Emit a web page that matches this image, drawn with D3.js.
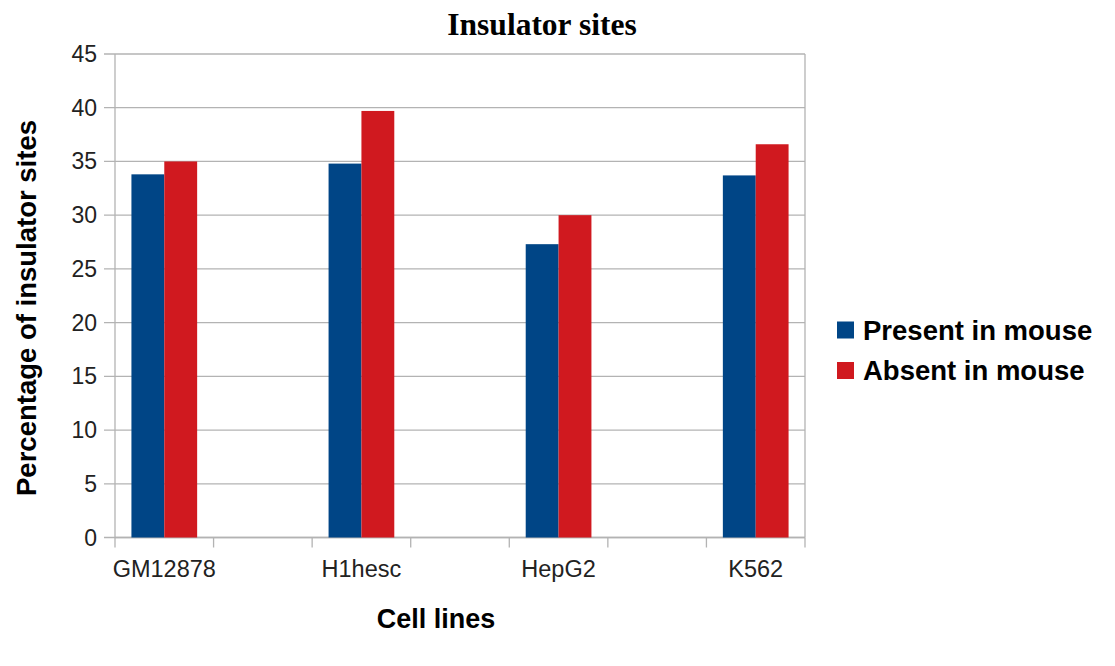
<!DOCTYPE html>
<html>
<head>
<meta charset="utf-8">
<script src="https://cdn.jsdelivr.net/npm/d3@7"></script>
<style>
  body { margin: 0; background: #fff; }
  svg { display: block; }
</style>
</head>
<body>
<svg id="chart" width="1115" height="666"></svg>
<script>
// chart data
var cellLines = ['GM12878', 'H1hesc', 'HepG2', 'K562'];
var seriesNames = ['Present in mouse', 'Absent in mouse'];
var presentValues = [33.8, 34.8, 27.3, 33.7];
var absentValues = [35.0, 39.7, 30.0, 36.6];
var yTicks = [0, 5, 10, 15, 20, 25, 30, 35, 40, 45];
var colors = ['#004586', '#d0191f'];

var svg = d3.select('#chart');
var plotLeft = 115, plotRight = 805, plotTop = 54, plotBottom = 537.5;
var gridColor = '#b3b3b3';

// the original chart has empty slots between cell lines
var slots = [];
cellLines.forEach(function(c, i) {
  slots.push({ key: 'c' + i, label: c, index: i });
  if (i < cellLines.length - 1) slots.push({ key: 'gap' + i, label: '', index: -1 });
});

var x = d3.scaleBand()
  .domain(slots.map(function(d) { return d.key; }))
  .range([plotLeft, plotRight]);

var y = d3.scaleLinear().domain([0, 45]).range([plotBottom, plotTop]);

// two bars per slot, each a third of the slot, centred
var inner = d3.scaleBand()
  .domain(seriesNames)
  .range([0, x.bandwidth()])
  .paddingInner(0)
  .paddingOuter(0.5);

// gridlines (with short outer ticks on the left)
svg.append('g')
  .selectAll('line')
  .data(yTicks)
  .enter()
  .append('line')
  .attr('x1', plotLeft - 11)
  .attr('x2', plotRight)
  .attr('y1', function(d) { return y(d); })
  .attr('y2', function(d) { return y(d); })
  .attr('stroke', gridColor)
  .attr('stroke-width', 1.3);

// y axis line and right border
svg.append('line').attr('x1', plotLeft).attr('x2', plotLeft).attr('y1', plotTop).attr('y2', plotBottom)
  .attr('stroke', gridColor).attr('stroke-width', 1.3);
svg.append('line').attr('x1', plotRight).attr('x2', plotRight).attr('y1', plotTop).attr('y2', plotBottom)
  .attr('stroke', gridColor).attr('stroke-width', 1.3);

// y tick labels
svg.append('g')
  .selectAll('text')
  .data(yTicks)
  .enter()
  .append('text')
  .attr('x', 97)
  .attr('y', function(d) { return y(d); })
  .attr('dy', '0.35em')
  .attr('text-anchor', 'end')
  .attr('font-family', 'Liberation Sans, Arial, sans-serif')
  .attr('font-size', '23px')
  .attr('fill', '#222')
  .text(function(d) { return d; });

// x axis with ticks at slot boundaries
var boundaries = slots.map(function(d) { return x(d.key); }).concat([plotRight]);
svg.append('line').attr('x1', plotLeft).attr('x2', plotRight).attr('y1', plotBottom).attr('y2', plotBottom)
  .attr('stroke', gridColor).attr('stroke-width', 1.3);
svg.append('g')
  .selectAll('line')
  .data(boundaries)
  .enter()
  .append('line')
  .attr('x1', function(d) { return d; })
  .attr('x2', function(d) { return d; })
  .attr('y1', plotBottom)
  .attr('y2', plotBottom + 10)
  .attr('stroke', gridColor)
  .attr('stroke-width', 1.3);

svg.append('g')
  .selectAll('text')
  .data(slots.filter(function(d) { return d.label; }))
  .enter()
  .append('text')
  .attr('x', function(d) { return x(d.key) + x.bandwidth() / 2; })
  .attr('y', 577)
  .attr('text-anchor', 'middle')
  .attr('font-family', 'Liberation Sans, Arial, sans-serif')
  .attr('font-size', '23.5px')
  .attr('fill', '#222')
  .text(function(d) { return d.label; });

// bars
var seriesValues = [presentValues, absentValues];
seriesValues.forEach(function(vals, s) {
  svg.append('g')
    .selectAll('rect')
    .data(slots.filter(function(d) { return d.index >= 0; }))
    .enter()
    .append('rect')
    .attr('x', function(d) { return x(d.key) + inner(seriesNames[s]); })
    .attr('width', inner.bandwidth())
    .attr('y', function(d) { return y(vals[d.index]); })
    .attr('height', function(d) { return plotBottom - y(vals[d.index]); })
    .attr('fill', colors[s]);
});

// title
svg.append('text')
  .attr('x', 542)
  .attr('y', 35)
  .attr('text-anchor', 'middle')
  .attr('font-family', 'Liberation Serif, Times New Roman, serif')
  .attr('font-weight', 'bold')
  .attr('font-size', '31.5px')
  .text('Insulator sites');

// axis titles
svg.append('text')
  .attr('transform', 'translate(36,308) rotate(-90)')
  .attr('text-anchor', 'middle')
  .attr('font-family', 'Liberation Sans, Arial, sans-serif')
  .attr('font-weight', 'bold')
  .attr('font-size', '27.5px')
  .text('Percentage of insulator sites');

svg.append('text')
  .attr('x', 436)
  .attr('y', 628)
  .attr('text-anchor', 'middle')
  .attr('font-family', 'Liberation Sans, Arial, sans-serif')
  .attr('font-weight', 'bold')
  .attr('font-size', '27px')
  .text('Cell lines');

// legend
var legend = svg.append('g')
  .selectAll('g')
  .data(seriesNames)
  .enter()
  .append('g')
  .attr('transform', function(d, i) { return 'translate(837,' + (330 + i * 40.5) + ')'; });

legend.append('rect')
  .attr('x', 0)
  .attr('y', -8.5)
  .attr('width', 17)
  .attr('height', 17)
  .attr('fill', function(d, i) { return colors[i]; });

legend.append('text')
  .attr('x', 26)
  .attr('y', 0)
  .attr('dy', '0.35em')
  .attr('font-family', 'Liberation Sans, Arial, sans-serif')
  .attr('font-weight', 'bold')
  .attr('font-size', '27.5px')
  .text(function(d) { return d; });
</script>
</body>
</html>
